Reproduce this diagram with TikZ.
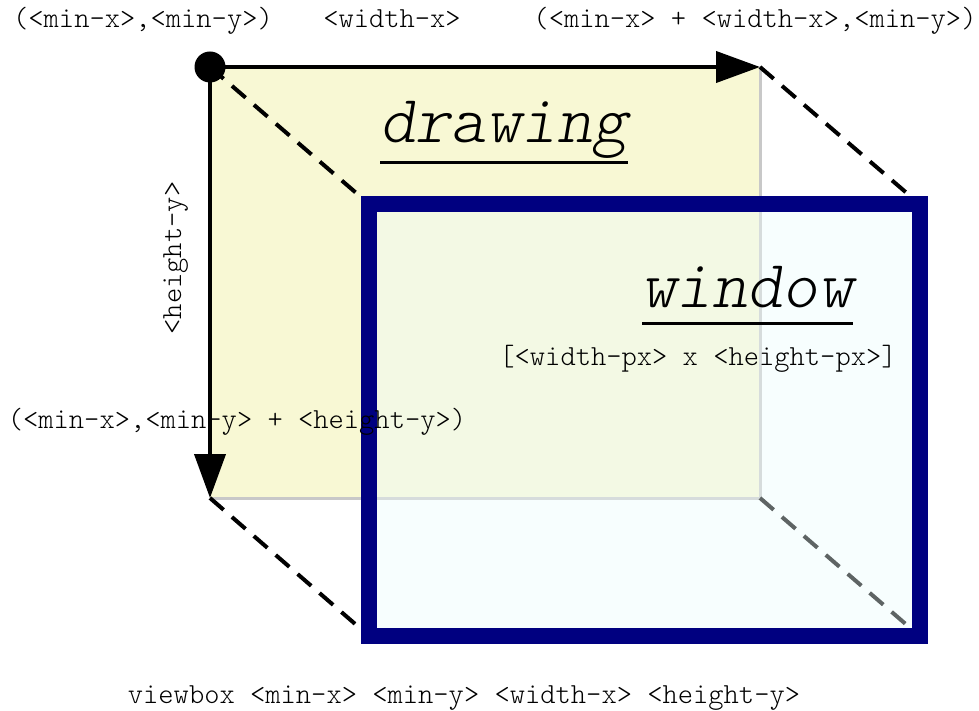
\documentclass[tikz,border=0pt]{standalone}
\usepackage{fontspec}
\newfontfamily\slmono{lmmonolt10-oblique.otf}
\newfontfamily\ltmono{lmmonolt10-regular.otf}
\usetikzlibrary{arrows.meta}
\definecolor{drawfill}{HTML}{F8F8D4}
\definecolor{winfill}{HTML}{ECFCFC}
\definecolor{navyb}{HTML}{000080}
\definecolor{edgegray}{HTML}{C8C8C8}
\begin{document}
\begin{tikzpicture}[x=1pt,y=-1pt,
  lbl/.style={font=\ltmono\fontsize{29.1}{34}\selectfont, inner sep=0pt, anchor=base},
  big/.style={font=\slmono\fontsize{67.4}{78}\selectfont, inner sep=0pt, anchor=base},
  dashline/.style={line width=4pt, dash pattern=on 18pt off 11pt},
  axisarrow/.style={line width=4pt, -{Triangle[length=44pt,width=31pt]}}]
\useasboundingbox (0,0) rectangle (979,711);
\coordinate (o) at (210,67);
\coordinate (tr) at (760,67);
\coordinate (bl) at (210,498);
\coordinate (br) at (760,498);
\coordinate (w1) at (369,204);
\coordinate (w2) at (919.5,204);
\coordinate (w3) at (369,636);
\coordinate (w4) at (919.5,636);
% drawing area
\fill[drawfill] (o) rectangle (br);
\draw[edgegray, line width=3pt] (tr) -- (br) -- (bl);
% projection lines
\draw[dashline] (o) -- (w1);
\draw[dashline] (tr) -- (w2);
\draw[dashline] (bl) -- (w3);
\draw[dashline] (br) -- (w4);
% axes
\draw[axisarrow] (o) -- (tr);
\draw[axisarrow] (o) -- (bl);
\fill (o) circle[radius=15.5pt];
% drawing label
\node[big] (drawing) at (504,143) {drawing};
\draw[line width=3pt] (380,163) -- (628,163);
% window
\fill[winfill, fill opacity=0.4] (w1) rectangle (w4);
\draw[navyb, line width=16pt] (w1) rectangle (w4);
\node[big] (window) at (747.5,307) {window};
\draw[line width=3pt] (642,323) -- (853,323);
\node[lbl] (px) at (698,365) {[<width-px> x <height-px>]};
% labels
\node[lbl] (minxy) at (143,28) {(<min-x>,<min-y>)};
\node[lbl] (wx) at (392,28) {<width-x>};
\node[lbl] (maxx) at (755,28) {(<min-x> + <width-x>,<min-y>)};
\node[lbl, rotate=90] (hy) at (181,258) {<height-y>};
\node[lbl] (maxy) at (237,428) {(<min-x>,<min-y> + <height-y>)};
\node[lbl] (vb) at (464,703) {viewbox <min-x> <min-y> <width-x> <height-y>};
\end{tikzpicture}
\end{document}
